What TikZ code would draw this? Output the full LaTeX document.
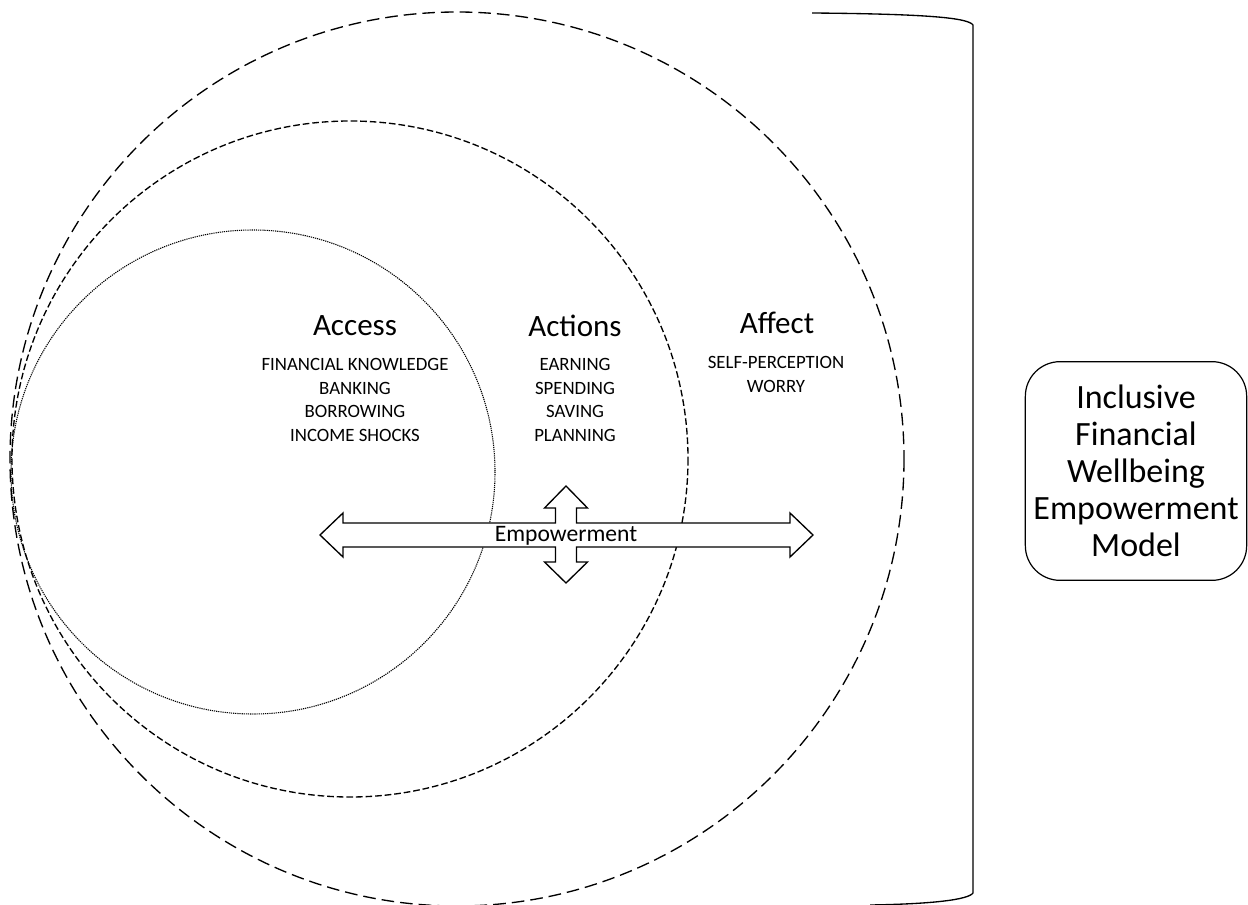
\documentclass[tikz,border=0pt]{standalone}
\usepackage{fontspec}
\setmainfont{Carlito}
\begin{document}
\begin{tikzpicture}[x=0.75pt,y=-0.75pt,
  outerring/.style={line width=1pt,dash pattern=on 9.5pt off 4.5pt},
  midring/.style={line width=1pt,dash pattern=on 5pt off 2.2pt},
  innerring/.style={line width=0.8pt,dash pattern=on 0.9pt off 0.7pt},
  head/.style={font=\fontsize{23.3pt}{28pt}\selectfont},
  items/.style={font=\fontsize{14.1pt}{17.6pt}\selectfont,align=center,anchor=north},
  modelbox/.style={draw,line width=0.9pt,rounded corners=26pt,minimum width=166pt,minimum height=164pt,align=center,font=\fontsize{25.5pt}{27.8pt}\selectfont}]
\useasboundingbox (0,0) rectangle (1248,905);
\fill[white] (0,0) rectangle (1248,905);

% nested rings
\draw[outerring] (457,459) circle[radius=447];
\draw[midring] (350,459) circle[radius=338];
\draw[innerring] (253,472) circle[radius=242];

% bracket enclosing the rings
\draw[line width=1pt] (812,13) .. controls (930,14) and (968,18) .. (973,25) -- (973,893) .. controls (968,900) and (930,904) .. (870,905);

% four-way empowerment arrow
\draw[line width=1pt,fill=white,line join=miter]
  (320,535) -- (343,513) -- (343,523) -- (555.5,523) -- (555.5,508) -- (544.5,508)
  -- (566,486) -- (587.5,508) -- (576.5,508) -- (576.5,523) -- (790,523) -- (790,513)
  -- (813,535) -- (790,557) -- (790,547) -- (576.5,547) -- (576.5,562) -- (587.5,562)
  -- (566,583) -- (544.5,562) -- (555.5,562) -- (555.5,547) -- (343,547) -- (343,557) -- cycle;
\node[font=\fontsize{17.7pt}{20pt}\selectfont] (emp) at (566,536) {Empowerment};

% ring headings and their items
\node[head] (access) at (355,326) {Access};
\node[items] (accessitems) at (355,354) {FINANCIAL KNOWLEDGE\\BANKING\\BORROWING\\INCOME SHOCKS};
\node[head] (actions) at (575,326) {Actions};
\node[items] (actionsitems) at (575,354) {EARNING\\SPENDING\\SAVING\\PLANNING};
\node[head] (affect) at (777,323) {Affect};
\node[items] (affectitems) at (776,352) {SELF-PERCEPTION\\WORRY};

% model name
\node[modelbox] (model) at (1136,471) {Inclusive\\Financial\\Wellbeing\\Empowerment\\Model};
\end{tikzpicture}
\end{document}
